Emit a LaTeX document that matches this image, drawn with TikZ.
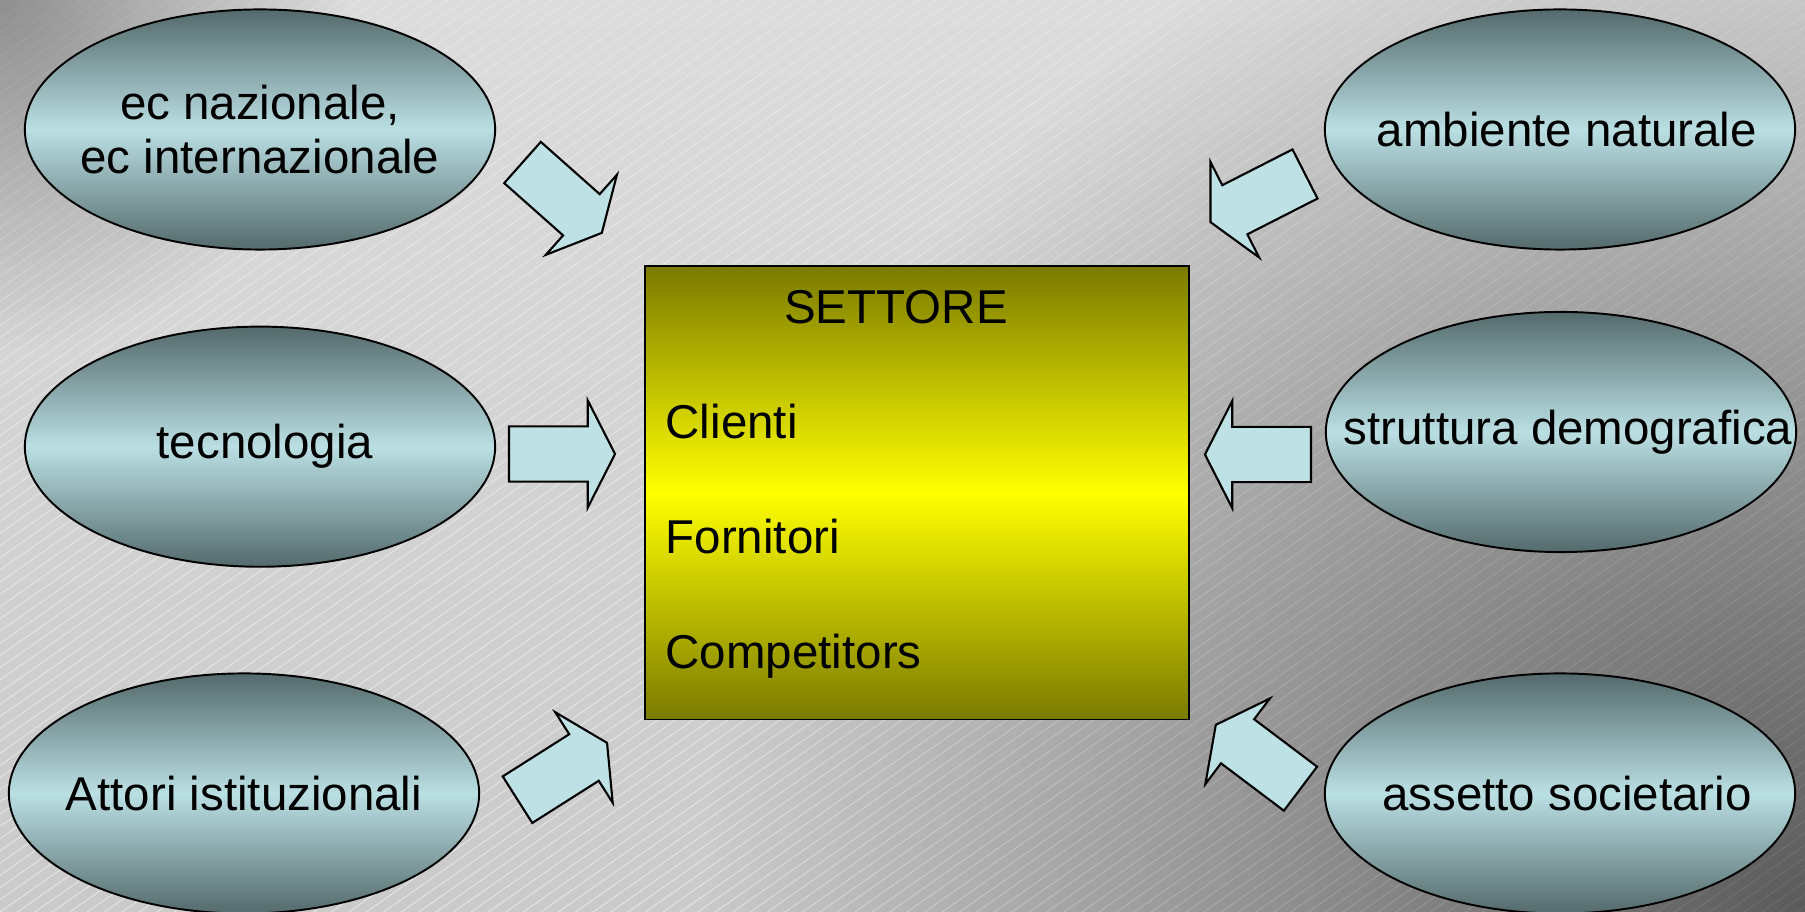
\documentclass[tikz,border=0pt]{standalone}
\usepackage{fontspec}
\setmainfont{Liberation Sans}
\usetikzlibrary{shapes.geometric,shapes.arrows,fadings,patterns.meta}
\definecolor{ellDark}{RGB}{84,106,108}
\definecolor{ellLight}{RGB}{186,223,227}
\definecolor{arrowFill}{RGB}{190,225,229}
\definecolor{boxOlive}{RGB}{122,122,0}
\definecolor{bgTop}{RGB}{220,220,220}
\definecolor{bgBot}{RGB}{202,202,202}
\definecolor{bgLine}{RGB}{228,228,228}
\tikzfading[name=bgfade, inner color=transparent!0, outer color=transparent!100]
\begin{document}
\begin{tikzpicture}
		[x=0.01cm,y=0.01cm,
		ell/.style={ellipse,draw=black,line width=0.55pt,minimum width=4.7cm,minimum height=2.4cm,top color=ellDark,bottom color=ellDark,middle color=ellLight},
		etext/.style={align=center,font=\fontsize{13.5}{15.6}\selectfont},
		blockarrow/.style={single arrow,draw=black,line width=0.6pt,fill=arrowFill,inner sep=0pt,outer sep=0pt,inner ysep=0.265cm,minimum height=1.06cm,single arrow head extend=0.26cm,single arrow tip angle=126,anchor=tail},
		settore/.style={rectangle,draw=black,line width=0.5pt,minimum width=5.44cm,minimum height=4.535cm,top color=boxOlive,bottom color=boxOlive,middle color=yellow},
		btext/.style={anchor=base west,inner sep=0pt,font=\fontsize{13.5}{15.6}\selectfont}]
		\useasboundingbox (0,0) rectangle (1805,912);
		\begin{scope}
			\clip (0,0) rectangle (1805,912);
			\shade[top color=bgTop,bottom color=bgBot] (0,0) rectangle (1805,912);
			\fill[pattern={Lines[angle=35,distance=0.1cm,line width=0.01cm]},pattern color=bgLine] (0,0) rectangle (1805,912);
			\fill[black,fill opacity=0.55,path fading=bgfade] (1805,0) circle (11cm);
			\fill[black,fill opacity=0.35,path fading=bgfade] (0,912) circle (3.5cm);
		\end{scope}
		
		\node[ell] (e1) at (260,782.5) {};
		\node[ell] (e2) at (260,465.3) {};
		\node[ell] (e3) at (244,118.5) {};
		\node[ell] (e4) at (1560,782.5) {};
		\node[ell] (e5) at (1561,480) {};
		\node[ell] (e6) at (1560,118.5) {};
		\node[etext] (t1) at (e1) {ec nazionale,\\ec internazionale};
		\node[etext] (t2) at ([xshift=0.05cm]e2) {tecnologia};
		\node[etext] (t3) at (e3) {Attori istituzionali};
		\node[etext] (t4) at ([xshift=0.07cm]e4) {ambiente naturale};
		\node[etext] (t5) at ([xshift=0.07cm]e5) {struttura demografica};
		\node[etext] (t6) at ([xshift=0.07cm]e6) {assetto societario};
		
		\foreach \n/\x/\y/\a in {1/522.5/749.5/-41.6,2/1305/738/207,3/509/458/0,4/1311/457.5/180,5/517.5/112.3/32.4,6/1300.5/123.3/143}
		\node[blockarrow,rotate=\a] (a\n) at (\x,\y) {};
		
		\node[settore] (box) at (917,419.3) {};
		\node[btext,anchor=base] (s0) at (896,588.5) {SETTORE};
		\node[btext] (s1) at (665,473.4) {Clienti};
		\node[btext] (s2) at (665,358.3) {Fornitori};
		\node[btext] (s3) at (665,243.2) {Competitors};
		\end{tikzpicture}
\end{document}
